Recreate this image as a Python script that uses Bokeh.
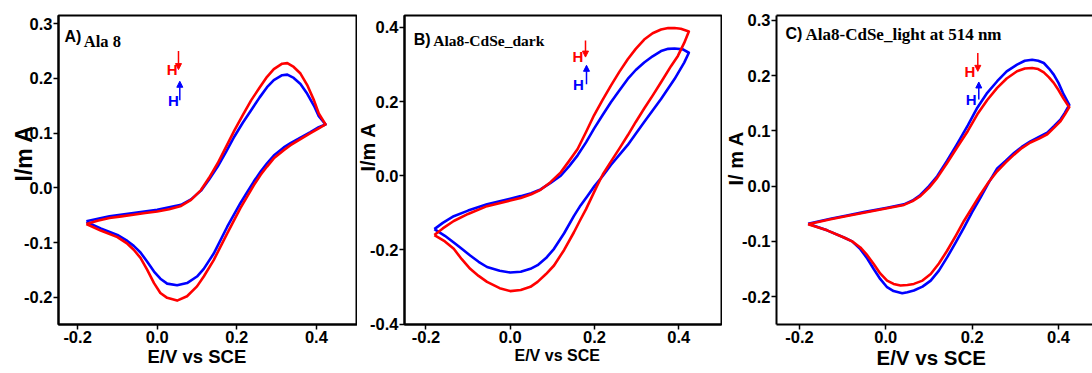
import math
from bokeh.plotting import figure
from bokeh.layouts import row
from bokeh.models import (Range1d, Label, Arrow, NormalHead, FixedTicker,
                          PrintfTickFormatter, Title, LinearAxis)
from bokeh.embed import file_html
from bokeh.resources import INLINE

# ---------------- data ----------------
x_ticks = [-0.2, 0.0, 0.2, 0.4]
a_y_ticks = [-0.2, -0.1, 0.0, 0.1, 0.2, 0.3]
b_y_ticks = [-0.4, -0.2, 0.0, 0.2, 0.4]
c_y_ticks = [-0.2, -0.1, 0.0, 0.1, 0.2, 0.3]

# Panel A: Ala 8  (loop: forward scan, then reverse scan)
a_red_E = [-0.178, -0.15, -0.12, -0.09, -0.06, -0.03, 0.0, 0.03, 0.06, 0.085, 0.11, 0.13, 0.152,
           0.173, 0.194, 0.215, 0.236, 0.257, 0.276, 0.293, 0.314, 0.327, 0.343, 0.36, 0.377,
           0.394, 0.406, 0.423,
           0.406, 0.385, 0.36, 0.335, 0.318, 0.293, 0.276, 0.26, 0.243, 0.226, 0.209, 0.176,
           0.142, 0.117, 0.1, 0.075, 0.05, 0.025, 0.008, -0.008, -0.025, -0.042, -0.059, -0.075,
           -0.1, -0.142, -0.178]
a_red_I = [-0.066, -0.06, -0.055, -0.052, -0.049, -0.046, -0.043, -0.039, -0.033, -0.022, -0.004,
           0.018, 0.045, 0.075, 0.105, 0.133, 0.16, 0.183, 0.203, 0.217, 0.227, 0.228, 0.221,
           0.209, 0.188, 0.16, 0.136, 0.116,
           0.109, 0.1, 0.089, 0.078, 0.069, 0.054, 0.039, 0.024, 0.005, -0.016, -0.037, -0.083,
           -0.132, -0.162, -0.18, -0.198, -0.206, -0.201, -0.192, -0.174, -0.15, -0.128, -0.113,
           -0.102, -0.09, -0.078, -0.066]
a_blue_E = [-0.178, -0.12, -0.06, 0.0, 0.06, 0.085, 0.11, 0.13, 0.152, 0.173, 0.194, 0.215,
            0.236, 0.257, 0.276, 0.293, 0.314, 0.327, 0.343, 0.36, 0.377, 0.394, 0.406, 0.423,
            0.406, 0.385, 0.36, 0.335, 0.318, 0.293, 0.276, 0.26, 0.243, 0.226, 0.209, 0.176,
            0.142, 0.117, 0.1, 0.075, 0.05, 0.025, 0.008, -0.008, -0.025, -0.042, -0.059, -0.075,
            -0.1, -0.142, -0.178]
a_blue_I = [-0.061, -0.052, -0.046, -0.04, -0.031, -0.021, -0.005, 0.015, 0.039, 0.066, 0.094,
            0.119, 0.142, 0.165, 0.184, 0.197, 0.206, 0.207, 0.201, 0.19, 0.172, 0.15, 0.131, 0.116,
            0.111, 0.102, 0.092, 0.082, 0.074, 0.059, 0.045, 0.03, 0.012, -0.008, -0.028, -0.071,
            -0.12, -0.148, -0.162, -0.174, -0.178, -0.175, -0.166, -0.153, -0.135, -0.118, -0.106,
            -0.097, -0.086, -0.074, -0.062]

# Panel B: Ala8-CdSe_dark
b_red_E = [-0.18, -0.16, -0.134, -0.1, -0.055, 0.0, 0.025, 0.05, 0.072, 0.095, 0.12, 0.14, 0.16,
           0.18, 0.199, 0.219, 0.239, 0.259, 0.279, 0.298, 0.318, 0.338, 0.358, 0.375, 0.39, 0.405,
           0.424,
           0.413, 0.398, 0.382, 0.358, 0.338, 0.318, 0.298, 0.279, 0.259, 0.239, 0.22, 0.205,
           0.18, 0.165, 0.151, 0.128, 0.104, 0.085, 0.065, 0.048, 0.025, 0.0, -0.025, -0.055,
           -0.075, -0.095, -0.115, -0.134, -0.155, -0.18]
b_red_I = [-0.16, -0.142, -0.122, -0.103, -0.082, -0.067, -0.06, -0.05, -0.038, -0.018, 0.009,
           0.04, 0.072, 0.118, 0.163, 0.204, 0.243, 0.28, 0.314, 0.342, 0.367, 0.384, 0.394, 0.398,
           0.398, 0.396, 0.389,
           0.358, 0.323, 0.296, 0.252, 0.216, 0.181, 0.145, 0.109, 0.073, 0.038, 0.004, -0.03,
           -0.09, -0.122, -0.153, -0.2, -0.242, -0.265, -0.286, -0.2995, -0.308, -0.311, -0.303,
           -0.286, -0.27, -0.251, -0.225, -0.197, -0.177, -0.16]
b_blue_E = [-0.18, -0.16, -0.134, -0.1, -0.055, 0.0, 0.025, 0.05, 0.072, 0.095, 0.12, 0.14, 0.16,
            0.18, 0.199, 0.219, 0.239, 0.259, 0.279, 0.298, 0.318, 0.338, 0.358, 0.375, 0.39,
            0.41, 0.424,
            0.413, 0.39, 0.358, 0.338, 0.318, 0.298, 0.279, 0.259, 0.239, 0.22, 0.2, 0.183, 0.167,
            0.151, 0.128, 0.104, 0.085, 0.065, 0.048, 0.025, 0.0, -0.025, -0.055, -0.075, -0.095,
            -0.115, -0.134, -0.155, -0.18]
b_blue_I = [-0.144, -0.127, -0.109, -0.094, -0.077, -0.062, -0.055, -0.047, -0.037, -0.02, 0.0,
            0.026, 0.055, 0.09, 0.127, 0.163, 0.198, 0.23, 0.261, 0.285, 0.305, 0.322, 0.336,
            0.342, 0.343, 0.3405, 0.3315,
            0.305, 0.2605, 0.207, 0.176, 0.145, 0.113, 0.083, 0.056, 0.029, 0.0, -0.028, -0.055,
            -0.08, -0.109, -0.155, -0.197, -0.222, -0.241, -0.251, -0.259, -0.261, -0.256, -0.246,
            -0.232, -0.215, -0.197, -0.18, -0.162, -0.144]

# Panel C: Ala8-CdSe_light at 514 nm
c_red_E = [-0.18, -0.128, -0.09, -0.051, 0.003, 0.042, 0.062, 0.08, 0.1, 0.119, 0.142, 0.165,
           0.19, 0.212, 0.235, 0.258, 0.28, 0.304, 0.322, 0.339, 0.353, 0.366, 0.378, 0.389, 0.4,
           0.412, 0.425,
           0.415, 0.405, 0.39, 0.374, 0.355, 0.335, 0.315, 0.297, 0.278, 0.258, 0.238, 0.219,
           0.2, 0.181, 0.162, 0.142, 0.123, 0.104, 0.085, 0.065, 0.05, 0.034, 0.018, 0.003,
           -0.013, -0.028, -0.043, -0.059, -0.078, -0.097, -0.136, -0.18]
c_red_I = [-0.069, -0.06, -0.054, -0.048, -0.04, -0.034, -0.027, -0.018, -0.003, 0.015, 0.042,
           0.07, 0.1, 0.13, 0.156, 0.178, 0.195, 0.208, 0.213, 0.214, 0.212, 0.206, 0.197, 0.187,
           0.174, 0.158, 0.143,
           0.13, 0.118, 0.106, 0.094, 0.086, 0.079, 0.069, 0.057, 0.043, 0.027, 0.007, -0.015,
           -0.039, -0.063, -0.09, -0.117, -0.14, -0.159, -0.171, -0.177, -0.179, -0.18, -0.177,
           -0.171, -0.158, -0.141, -0.125, -0.111, -0.1, -0.093, -0.08, -0.069]
c_blue_E = [-0.18, -0.128, -0.09, -0.051, 0.003, 0.042, 0.062, 0.08, 0.1, 0.119, 0.142, 0.165,
            0.19, 0.212, 0.235, 0.258, 0.28, 0.304, 0.322, 0.339, 0.353, 0.366, 0.378, 0.389, 0.4,
            0.412, 0.425,
            0.415, 0.405, 0.39, 0.374, 0.355, 0.335, 0.315, 0.297, 0.278, 0.258, 0.238, 0.219,
            0.2, 0.181, 0.162, 0.142, 0.123, 0.104, 0.085, 0.065, 0.05, 0.038, 0.018, 0.003,
            -0.013, -0.028, -0.043, -0.059, -0.078, -0.097, -0.136, -0.18]
c_blue_I = [-0.068, -0.059, -0.053, -0.047, -0.039, -0.033, -0.026, -0.016, 0.0, 0.018, 0.046,
            0.076, 0.11, 0.142, 0.169, 0.19, 0.208, 0.22, 0.227, 0.229, 0.227, 0.223, 0.213, 0.202,
            0.187, 0.166, 0.147,
            0.133, 0.121, 0.109, 0.097, 0.089, 0.081, 0.071, 0.06, 0.046, 0.032, 0.006, -0.021,
            -0.047, -0.075, -0.102, -0.129, -0.153, -0.171, -0.182, -0.189, -0.192, -0.194, -0.19,
            -0.183, -0.168, -0.15, -0.131, -0.114, -0.1, -0.093, -0.08, -0.068]

x_label = "E/V vs SCE"
SANS = "Liberation Sans"
SERIF = "Liberation Serif"
RED = "#ff0000"
BLUE = "#0000ff"


def panel(width, mbl, mbr, mbt, mbb, xr, yr, yticks, outline=True):
    p = figure(width=width, height=373, x_range=Range1d(*xr), y_range=Range1d(*yr),
               output_backend="svg", toolbar_location=None,
               min_border_left=mbl, min_border_right=mbr,
               min_border_top=mbt, min_border_bottom=mbb)
    p.grid.visible = False
    p.background_fill_color = "white"
    p.border_fill_color = "white"
    if outline:
        p.outline_line_color = "black"
        p.outline_line_width = 2
        p.outline_line_alpha = 1.0
    else:
        p.outline_line_color = None
    p.xaxis.ticker = FixedTicker(ticks=x_ticks)
    p.yaxis.ticker = FixedTicker(ticks=yticks)
    for ax in (p.xaxis[0], p.yaxis[0]):
        ax.formatter = PrintfTickFormatter(format="%.1f")
        ax.axis_line_width = 2
        ax.axis_line_color = "black"
        ax.major_tick_line_width = 1.5
        ax.major_tick_in = 0
        ax.major_tick_out = 5
        ax.minor_tick_line_color = None
        ax.minor_tick_out = 0
        ax.minor_tick_in = 0
        ax.major_label_standoff = 1
        ax.major_label_text_font = SANS
        ax.major_label_text_font_style = "bold"
        ax.major_label_text_font_size = "16.5px"
        ax.major_label_text_color = "black"
    return p


def axis_titles(p, ysize, yoff, ystand, ytext, xsize, xoff, xstand):
    p.add_layout(Title(text=ytext, align="left", vertical_align="bottom", offset=yoff,
                       standoff=ystand, text_font=SANS, text_font_style="bold",
                       text_font_size=ysize, text_color="black"), "left")
    p.add_layout(Title(text=x_label, align="left", vertical_align="top", offset=xoff,
                       standoff=xstand, text_font=SANS, text_font_style="bold",
                       text_font_size=xsize, text_color="black"), "below")


def add_text(p, x, y, text, font, size, align="left", color="black"):
    p.add_layout(Label(x=x, y=y, text=text, text_font=font, text_font_style="bold",
                       text_font_size=size, text_align=align, text_baseline="alphabetic",
                       text_color=color))


def add_marker(p, hx, hy_red, hy_blue, ax_red, ax_blue, ry0, ry1, by0, by1):
    add_text(p, hx[0], hy_red, "H", SANS, "15px", align="center", color=RED)
    add_text(p, hx[1], hy_blue, "H", SANS, "15px", align="center", color=BLUE)
    p.add_layout(Arrow(end=NormalHead(size=6, fill_color=RED, line_color=RED, line_width=1),
                       x_start=ax_red, y_start=ry0, x_end=ax_red, y_end=ry1,
                       line_color=RED, line_width=1.5))
    p.add_layout(Arrow(end=NormalHead(size=6, fill_color=BLUE, line_color=BLUE, line_width=1),
                       x_start=ax_blue, y_start=by0, x_end=ax_blue, y_end=by1,
                       line_color=BLUE, line_width=1.5))


def curves(p, be, bi, re_, ri):
    p.line(be, bi, line_color=BLUE, line_width=2.6, line_join="round")
    p.line(re_, ri, line_color=RED, line_width=2.6, line_join="round")


# ---------------- Panel A ----------------
pa = panel(357, 58, 0, 15, 48, (-0.248, 0.5033), (-0.2497, 0.3151), a_y_ticks)
curves(pa, a_blue_E, a_blue_I, a_red_E, a_red_I)
add_text(pa, -0.2329, 0.2769, "A)", SANS, "16px")
add_text(pa, -0.1844, 0.2683, "Ala 8", SERIF, "16.5px")
axis_titles(pa, "23px", 143, -30, "I/m A", "18.5px", 89, 0)
add_marker(pa, (0.0377, 0.0405), 0.2162, 0.1602, 0.0535, 0.0568, 0.2501, 0.2162, 0.1602, 0.1949)

# ---------------- Panel B ----------------
pb = panel(365, 47, 1, 14, 47, (-0.2509, 0.5015), (-0.401, 0.4319), b_y_ticks)
curves(pb, b_blue_E, b_blue_I, b_red_E, b_red_I)
add_text(pb, -0.2288, 0.3665, "B)", SANS, "16px")
add_text(pb, -0.1828, 0.3644, "Ala8-CdSe_dark", SERIF, "15.5px")
axis_titles(pb, "20px", 153, -23, "I/m A", "16px", 110, 2)
add_marker(pb, (0.161, 0.1621), 0.3224, 0.2469, 0.1787, 0.1811, 0.3644, 0.3198, 0.2469, 0.2977)

# ---------------- Panel C ----------------
pc = panel(370, 54, 0, 14, 49, (-0.2532, 0.4788), (-0.2505, 0.309), c_y_ticks, outline=False)
top_axis = LinearAxis(ticker=FixedTicker(ticks=[]), axis_line_width=2, axis_line_color="black",
                      major_tick_out=0, major_tick_in=0, minor_tick_out=0, minor_tick_in=0,
                      major_label_standoff=0, major_label_text_font_size="0px")
pc.add_layout(top_axis, "above")
curves(pc, c_blue_E, c_blue_I, c_red_E, c_red_I)
add_text(pc, -0.2323, 0.2756, "C)", SANS, "16px")
add_text(pc, -0.186, 0.2753, "Ala8-CdSe_light at 514 nm", SERIF, "17px")
axis_titles(pc, "20px", 139, -14, "I/ m A", "20.5px", 100, 0)
add_marker(pc, (0.195, 0.198), 0.2079, 0.1569, 0.2131, 0.2154, 0.241, 0.2079, 0.1569, 0.1886)

layout = row(pa, pb, pc)
open("out.html", "w").write(file_html(layout, INLINE))
